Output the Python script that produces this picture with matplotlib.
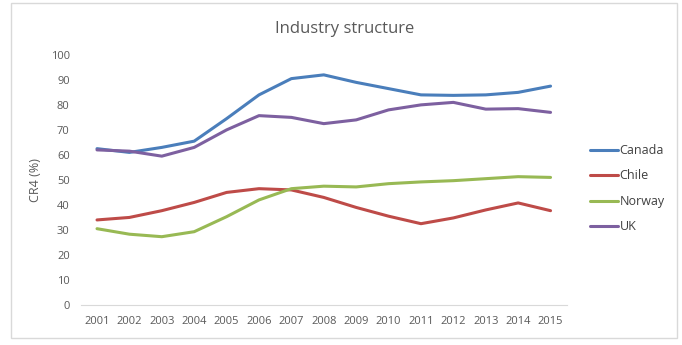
import matplotlib.pyplot as plt
import numpy as np
from matplotlib.patches import Rectangle

years = list(range(2001, 2016))
canada = [62.5, 61, 63, 65.5, 74.5, 84, 90.5, 92, 89, 86.5, 84, 83.8, 84, 85, 87.5]
chile = [34, 35, 37.7, 41, 45, 46.5, 46, 43, 39, 35.5, 32.5, 34.8, 38, 40.8, 37.7]
norway = [30.5, 28.3, 27.3, 29.3, 35.3, 42, 46.5, 47.5, 47.2, 48.5, 49.2, 49.7, 50.5, 51.3, 51]
uk = [62, 61.5, 59.5, 63, 70, 75.7, 75, 72.5, 74, 78, 80, 81, 78.3, 78.5, 77]

series = [("Canada", canada, "#4a7ebb"),
          ("Chile", chile, "#be4b48"),
          ("Norway", norway, "#98b954"),
          ("UK", uk, "#7d60a0")]

plt.rcParams['font.family'] = ['Open Sans', 'DejaVu Sans']

fig = plt.figure(figsize=(6.82, 3.45), dpi=100)
# outer chart border
fig.patches.append(Rectangle((11 / 682, 7 / 345), 666 / 682, 335 / 345, transform=fig.transFigure,
                             fill=False, edgecolor="#d9d9d9", lw=1))

ax = fig.add_axes([0.1185, 0.116, 0.7125, 0.725])
for name, vals, col in series:
    ax.plot(years, vals, color=col, lw=2.2, label=name, solid_capstyle='round')

ax.set_xlim(2000.5, 2015.5)
ax.set_ylim(0, 100)
ax.set_xticks(years)
ax.set_yticks(np.arange(0, 101, 10))
ax.tick_params(length=0, labelsize=8, labelcolor="#595959", pad=8)
for s in ["top", "right", "left"]:
    ax.spines[s].set_visible(False)
ax.spines["bottom"].set_color("#d9d9d9")
ax.set_ylabel("CR4 (%)", fontsize=9, color="#595959", labelpad=6)

fig.suptitle("Industry structure", x=0.506, y=0.94, fontsize=12, color="#595959")

leg = ax.legend(loc="center left", bbox_to_anchor=(1.025, 0.465), frameon=False, fontsize=9,
                handlelength=2.2, labelspacing=1.0, handletextpad=0.15)
for t in leg.get_texts():
    t.set_color("#404040")

fig.savefig("out.png", dpi=100)
